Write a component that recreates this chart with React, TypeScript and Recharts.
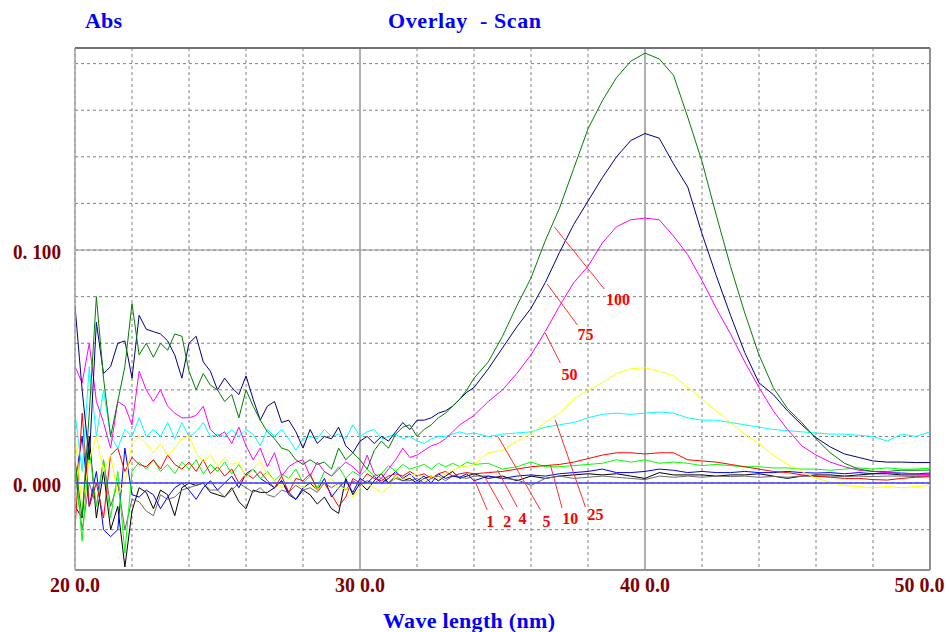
import React from 'react';
import { LineChart, Line, XAxis, YAxis, CartesianGrid, ReferenceLine, ReferenceDot } from 'recharts';

// Wavelengths (nm)
const wavelengths = [
  200, 202.5, 205, 207.5, 210, 212.5, 215, 217.5,
  220, 222.5, 225, 227.5, 230, 232.5, 235, 237.5,
  240, 242.5, 245, 247.5, 250, 252.5, 255, 257.5,
  260, 262.5, 265, 267.5, 270, 272.5, 275, 277.5,
  280, 282.5, 285, 287.5, 290, 292.5, 295, 297.5,
  300, 302.5, 305, 307.5, 310, 312.5, 315, 317.5,
  320, 322.5, 325, 327.5, 330, 332.5, 335, 337.5,
  340,
  345, 350, 355, 360, 365, 370, 375, 380,
  385, 390, 395, 400, 405, 410, 415, 420,
  425, 430, 435, 440, 445, 450, 455, 460,
  465, 470, 475, 480, 485, 490, 495, 500,
];

const s100 = [
  0.01, -0.015, 0.03, 0.08, 0.045, 0.02, 0.035, 0.05,
  0.077, 0.055, 0.06, 0.054, 0.06, 0.057, 0.064, 0.063,
  0.048, 0.04, 0.047, 0.042, 0.04, 0.035, 0.038, 0.028,
  0.04, 0.033, 0.027, 0.022, 0.019, 0.015, 0.014, 0.01,
  0.008, 0.01, 0.008, 0.009, 0.006, 0.015, 0.01, 0.013,
  0.01, 0.006, 0.014, 0.018, 0.015, 0.021, 0.024, 0.025,
  0.02, 0.023, 0.025, 0.028, 0.03, 0.033, 0.036, 0.04,
  0.045,
  0.052, 0.063, 0.076, 0.088, 0.104, 0.118, 0.135, 0.152,
  0.164, 0.174, 0.181, 0.1845, 0.182, 0.175, 0.157, 0.138,
  0.115, 0.093, 0.073, 0.055, 0.041, 0.032, 0.026, 0.019,
  0.013, 0.0085, 0.006, 0.005, 0.005, 0.0055, 0.0055, 0.0056,
];

const s75 = [
  0.076, 0.04, 0.01, 0.069, 0.047, 0.05, 0.06, 0.061,
  0.045, 0.072, 0.066, 0.065, 0.064, 0.061, 0.055, 0.045,
  0.06, 0.063, 0.052, 0.048, 0.04, 0.045, 0.041, 0.038,
  0.046, 0.036, 0.027, 0.033, 0.035, 0.026, 0.027, 0.022,
  0.015, 0.023, 0.017, 0.02, 0.019, 0.024, 0.016, 0.013,
  0.018, 0.02, 0.017, 0.02, 0.018, 0.022, 0.026, 0.023,
  0.027, 0.027, 0.028, 0.03, 0.031, 0.033, 0.036, 0.039,
  0.041,
  0.049, 0.058, 0.067, 0.075, 0.086, 0.099, 0.111, 0.121,
  0.131, 0.14, 0.147, 0.15, 0.148, 0.137, 0.127, 0.107,
  0.089, 0.072, 0.056, 0.043, 0.038, 0.031, 0.025, 0.0195,
  0.0155, 0.0125, 0.011, 0.0095, 0.009, 0.009, 0.0088, 0.0088,
];

const s50 = [
  0.05, 0.043, 0.06, 0.035, 0.026, 0.015, 0.035, 0.033,
  0.025, 0.048, 0.04, 0.035, 0.04, 0.033, 0.03, 0.028,
  0.028, 0.029, 0.033, 0.023, 0.02, 0.022, 0.017, 0.024,
  0.016, 0.01, 0.015, 0.007, 0.013, 0.003, 0.007, 0.009,
  0.01, 0.003, 0.009, 0.005, 0.003, 0.006, 0.009, 0.007,
  0.004, 0.012, 0.004, 0.002, 0.006, 0.01, 0.015, 0.011,
  0.012, 0.014, 0.016, 0.017, 0.019, 0.022, 0.025, 0.027,
  0.029,
  0.035, 0.04, 0.047, 0.055, 0.065, 0.076, 0.086, 0.093,
  0.103, 0.11, 0.113, 0.1137, 0.113, 0.106, 0.098, 0.087,
  0.075, 0.064, 0.052, 0.041, 0.031, 0.023, 0.016, 0.012,
  0.009, 0.007, 0.0055, 0.005, 0.0045, 0.004, 0.004, 0.0035,
];

const s25 = [
  0.02, -0.01, 0.01, 0.02, 0.005, 0.012, -0.005, 0.0,
  0.017, 0.02, 0.017, 0.013, 0.017, 0.012, 0.015, 0.019,
  0.02, 0.013, 0.009, 0.012, 0.007, 0.011, 0.008, 0.009,
  0.002, 0.006, 0.009, 0.004, 0.001, -0.002, 0.002, 0.0,
  -0.002, 0.001, -0.003, 0.0, 0.002, -0.003, -0.002, -0.006,
  -0.002, 0.0, -0.002, -0.004, -0.002, 0.003, 0.0015, 0.003,
  0.004, 0.001, 0.003, 0.002, 0.004, 0.0055, 0.007, 0.007,
  0.008,
  0.013, 0.014, 0.018, 0.021, 0.026, 0.03, 0.036, 0.04,
  0.043, 0.047, 0.049, 0.0495, 0.048, 0.046, 0.041, 0.036,
  0.031, 0.026, 0.021, 0.017, 0.012, 0.008, 0.005, 0.002,
  0.0005, -0.001, -0.0015, -0.002, -0.0015, -0.002, -0.0015, -0.001,
];

const s10 = [
  0.03, 0.005, 0.05, 0.02, 0.04, 0.02, 0.015, 0.023,
  0.02, 0.028, 0.02, 0.023, 0.02, 0.026, 0.019, 0.026,
  0.02, 0.022, 0.026, 0.02, 0.021, 0.02, 0.023, 0.02,
  0.023, 0.021, 0.016, 0.023, 0.02, 0.023, 0.019, 0.014,
  0.019, 0.02, 0.019, 0.023, 0.02, 0.021, 0.019, 0.025,
  0.02, 0.022, 0.023, 0.019, 0.02, 0.021, 0.019, 0.02,
  0.018, 0.017, 0.019, 0.02, 0.02, 0.021, 0.022, 0.021,
  0.0215,
  0.02, 0.021, 0.0215, 0.022, 0.024, 0.025, 0.026, 0.028,
  0.0295, 0.03, 0.0295, 0.03, 0.0305, 0.03, 0.028, 0.027,
  0.027, 0.026, 0.025, 0.024, 0.023, 0.0225, 0.022, 0.0215,
  0.021, 0.021, 0.0205, 0.02, 0.018, 0.021, 0.02, 0.022,
];

const s5 = [
  -0.02, 0.03, -0.01, 0.0, -0.015, 0.012, 0.015, 0.005,
  0.011, 0.008, 0.007, 0.01, 0.006, 0.012, 0.008, 0.006,
  0.009, 0.005, 0.01, 0.004, 0.007, 0.003, 0.006, 0.0,
  0.004, 0.002, 0.005, 0.001, -0.002, 0.003, -0.004, 0.002,
  0.001, 0.004, -0.003, 0.0, -0.005, -0.01, -0.006, 0.002,
  0.0, 0.004, 0.002, 0.001, 0.003, 0.004, 0.003, 0.005,
  0.003, 0.004, 0.002, 0.004, 0.005, 0.003, 0.004, 0.0045,
  0.004,
  0.0045, 0.005, 0.006, 0.007, 0.0075, 0.008, 0.009, 0.0105,
  0.012, 0.013, 0.013, 0.0125, 0.013, 0.013, 0.01, 0.0095,
  0.009, 0.008, 0.007, 0.006, 0.005, 0.0045, 0.0035, 0.003,
  0.0025, 0.002, 0.002, 0.0015, 0.0013, 0.002, 0.0025, 0.0027,
];

const s4 = [
  0.01, -0.025, 0.015, -0.01, 0.01, -0.015, 0.005, -0.03,
  0.005, 0.009, 0.006, 0.01, 0.005, 0.008, 0.004, 0.009,
  0.006, 0.01, 0.004, 0.008, 0.005, 0.009, 0.004, 0.008,
  0.003, 0.006, 0.002, 0.005, 0.001, 0.004, 0.002, 0.006,
  0.0, 0.003, -0.002, 0.005, 0.003, 0.007, 0.002, 0.005,
  0.003, 0.006, 0.003, 0.004, 0.0075, 0.005, 0.008, 0.006,
  0.007, 0.008, 0.006, 0.0085, 0.007, 0.0085, 0.007, 0.009,
  0.008,
  0.0085, 0.006, 0.007, 0.009, 0.007, 0.007, 0.0075, 0.008,
  0.0085, 0.01, 0.009, 0.01, 0.0085, 0.009, 0.0085, 0.0075,
  0.008, 0.0075, 0.007, 0.007, 0.0065, 0.0065, 0.006, 0.006,
  0.0055, 0.006, 0.0065, 0.006, 0.0065, 0.006, 0.006, 0.0064,
];

const s2 = [
  0.0, 0.02, -0.01, 0.005, -0.02, -0.023, -0.02, 0.015,
  -0.005, -0.006, -0.003, -0.005, -0.011, -0.006, -0.002, 0.0,
  -0.003, -0.007, -0.002, 0.001, -0.003, 0.0, 0.003, -0.002,
  0.004, 0.006, 0.002, 0.0, -0.002, 0.001, -0.005, -0.007,
  -0.002, 0.0, -0.003, 0.002, -0.006, -0.002, 0.001, -0.004,
  0.002, 0.0, 0.003, 0.0, 0.002, 0.005, 0.002, 0.004,
  0.001, 0.003, 0.0, 0.004, 0.002, 0.003, 0.0025, 0.004,
  0.001,
  0.003, 0.002, 0.003, 0.0035, 0.003, 0.004, 0.0045, 0.005,
  0.006, 0.0045, 0.0045, 0.005, 0.006, 0.0055, 0.0045, 0.005,
  0.0045, 0.0045, 0.005, 0.0045, 0.0045, 0.005, 0.0045, 0.0043,
  0.0045, 0.004, 0.0045, 0.004, 0.0045, 0.0043, 0.004, 0.0043,
];

const s1 = [
  -0.01, -0.015, 0.02, -0.015, 0.005, -0.02, -0.01, -0.036,
  -0.012, -0.002, -0.004, -0.011, -0.003, -0.005, -0.014, -0.002,
  0.0, -0.001, 0.0, -0.004, -0.005, -0.006, -0.002, -0.008,
  -0.011, -0.003, -0.004, -0.004, -0.002, 0.001, -0.004, -0.007,
  -0.003, -0.005, -0.009, -0.006, -0.011, -0.013, 0.002, -0.005,
  0.0, -0.003, 0.001, 0.004, 0.0, 0.003, 0.001, 0.002,
  0.0, 0.002, 0.003, 0.001, 0.003, 0.005, 0.002, 0.003,
  0.004,
  0.002, 0.003, 0.001, 0.003, 0.002, 0.003, 0.0035, 0.004,
  0.0035, 0.004, 0.003, 0.002, 0.0045, 0.0035, 0.0035, 0.0035,
  0.003, 0.0035, 0.0035, 0.004, 0.003, 0.002, 0.003, 0.0035,
  0.0035, 0.003, 0.0035, 0.004, 0.004, 0.0035, 0.0035, 0.0035,
];

const sGray = [
  0.005, -0.02, 0.0, -0.01, 0.01, -0.01, 0.0, -0.02,
  -0.007, -0.008, -0.012, -0.014, -0.005, -0.007, -0.006, -0.003,
  -0.002, -0.001, 0.0, -0.003, -0.003, -0.006, -0.003, 0.0,
  -0.002, -0.004, -0.002, -0.005, -0.006, -0.003, -0.004, -0.001,
  -0.003, -0.002, -0.004, 0.0, -0.002, 0.0, -0.003, 0.001,
  -0.001, 0.001, 0.0, 0.002, 0.0, 0.002, 0.001, 0.001,
  0.002, 0.0, 0.002, 0.003, 0.001, 0.003, 0.0025, 0.002,
  0.003,
  0.003, 0.002, 0.0015, -0.001, 0.002, 0.003, 0.002, 0.0025,
  0.003, 0.0025, 0.002, 0.0015, 0.003, 0.0025, 0.003, 0.0025,
  0.003, 0.0028, 0.003, 0.0025, 0.0028, 0.0025, 0.003, 0.0028,
  0.003, 0.0028, 0.003, 0.0028, 0.003, 0.003, 0.0028, 0.003,
];

// Axis ticks / labels
const xGridTicks = [200, 220, 240, 260, 280, 300, 320, 340, 360, 380, 400, 420, 440, 460, 480, 500];
const xLabelValues = [200, 300, 400, 500];
const xLabelTexts = ['20 0.0', '30 0.0', '40 0.0', '50 0.0'];
const yGridTicks = [-0.02, 0, 0.02, 0.04, 0.06, 0.08, 0.1, 0.12, 0.14, 0.16, 0.18];
const yLabelValues = [0, 0.1];
const yLabelTexts = ['0. 000', '0. 100'];
const xMajor = [300, 400];
const yMajor = [0.1];
const X_MIN = 200;
const X_MAX = 500;
const Y_MIN = -0.0373;
const Y_MAX = 0.1867;

// Annotations
const annoTexts = ['1', '2', '4', '5', '10', '25', '50', '75', '100'];
const annoTextWl = [345.7, 351.7, 357.0, 365.4, 373.8, 382.6, 373.5, 379.1, 390.5];
const annoTextAbs = [-0.0163, -0.0163, -0.0154, -0.0167, -0.015, -0.0133, 0.0468, 0.0639, 0.0786];
const leaderStartWl = [344.6, 350.3, 355.2, 363.3, 370.9, 379.1, 370.3, 376.3, 385.7];
const leaderStartAbs = [-0.0115, -0.0115, -0.0103, -0.0115, -0.0107, -0.0103, 0.0515, 0.0678, 0.0833];
const leaderEndWl = [339.9, 344.0, 348.2, 348.5, 366.8, 368.5, 365.0, 365.7, 368.2];
const leaderEndAbs = [0.0021, 0.0022, 0.0056, 0.0198, 0.0078, 0.0271, 0.0644, 0.0854, 0.1099];

const series = [
  { key: 'c1', values: s1, color: '#000000' },
  { key: 'cg', values: sGray, color: '#6a6a6a' },
  { key: 'c2', values: s2, color: '#0000ff' },
  { key: 'c4', values: s4, color: '#00ff00' },
  { key: 'c5', values: s5, color: '#ff0000' },
  { key: 'c10', values: s10, color: '#00ffff' },
  { key: 'c25', values: s25, color: '#ffff00' },
  { key: 'c50', values: s50, color: '#ff00ff' },
  { key: 'c75', values: s75, color: '#000080' },
  { key: 'c100', values: s100, color: '#008000' },
];

const data = wavelengths.map((wl, i) => {
  const row: Record<string, number> = { wl };
  series.forEach((s) => {
    row[s.key] = s.values[i];
  });
  return row;
});

const FONT = "'Liberation Serif', 'Times New Roman', serif";
const CHART_W = 951;

const XTick = (props: any) => {
  const { x, y, payload } = props;
  const idx = xLabelValues.indexOf(payload.value);
  if (idx < 0) return <g />;
  const w = 50;
  const cx = Math.min(x, CHART_W - 4 - 55 / 2);
  return (
    <text x={cx} y={y + 14} textAnchor="middle" fontFamily={FONT} fontWeight="bold" fontSize={22}
      fill="#800000" textLength={w} lengthAdjust="spacingAndGlyphs" style={{ whiteSpace: 'pre' }}>
      {xLabelTexts[idx]}
    </text>
  );
};

const YTick = (props: any) => {
  const { x, y, payload } = props;
  const idx = yLabelValues.findIndex((v) => Math.abs(v - payload.value) < 1e-9);
  if (idx < 0) return <g />;
  return (
    <text x={x - 6} y={y + 9} textAnchor="end" fontFamily={FONT} fontWeight="bold" fontSize={22}
      fill="#800000" textLength={48} lengthAdjust="spacingAndGlyphs" style={{ whiteSpace: 'pre' }}>
      {yLabelTexts[idx]}
    </text>
  );
};

export default function App() {
  return (
    <div style={{ position: 'absolute', left: 0, top: 0, width: 951, height: 632, background: '#ffffff', overflow: 'hidden' }}>
      <LineChart width={951} height={632} data={data} margin={{ top: 48, right: 21, left: 0, bottom: 0 }}>
        <CartesianGrid stroke="#808080" strokeDasharray="3 3" strokeWidth={1} />
        <XAxis dataKey="wl" type="number" domain={[X_MIN, X_MAX]} ticks={xGridTicks} interval={0}
          tick={<XTick />} tickLine={false} axisLine={{ stroke: '#909090', strokeWidth: 2 }} height={62}
          allowDataOverflow />
        <YAxis type="number" domain={[Y_MIN, Y_MAX]} ticks={yGridTicks} interval={0} tick={<YTick />}
          tickLine={false} axisLine={{ stroke: '#a0a0a0', strokeWidth: 1.5 }} width={75} allowDataOverflow />
        {xMajor.map((v) => (
          <ReferenceLine key={'xm' + v} x={v} stroke="#b0b0b0" strokeWidth={2} />
        ))}
        {yMajor.map((v) => (
          <ReferenceLine key={'ym' + v} y={v} stroke="#909090" strokeWidth={1} />
        ))}
        <ReferenceLine y={Y_MAX} stroke="#707070" strokeWidth={2} />
        <ReferenceLine x={X_MAX} stroke="#909090" strokeWidth={2} />
        {series.map((s) => (
          <Line key={s.key} dataKey={s.key} stroke={s.color} strokeWidth={1} dot={false} activeDot={false}
            isAnimationActive={false} type="linear" />
        ))}
        <ReferenceLine y={0} stroke="#4040ff" strokeWidth={1.5} />
        {annoTexts.map((t, i) => (
          <ReferenceLine key={'ld' + i}
            segment={[{ x: leaderStartWl[i], y: leaderStartAbs[i] }, { x: leaderEndWl[i], y: leaderEndAbs[i] }]}
            stroke="#ff3030" strokeWidth={1} />
        ))}
        {annoTexts.map((t, i) => (
          <ReferenceDot key={'lt' + i} x={annoTextWl[i]} y={annoTextAbs[i]} r={0}
            shape={(p: any) => (
              <text x={p.cx} y={p.cy} textAnchor="middle" dominantBaseline="central" fontFamily={FONT}
                fontWeight="bold" fontSize={16} fill="#ff0000">
                {t}
              </text>
            )} />
        ))}
      </LineChart>
      <svg width={951} height={632} style={{ position: 'absolute', left: 0, top: 0, pointerEvents: 'none' }}>
        <text x={85} y={28} fontFamily={FONT} fontWeight="bold" fontSize={22} fill="#0000ff"
          textLength={37} lengthAdjust="spacing">Abs</text>
        <text x={388} y={28} fontFamily={FONT} fontWeight="bold" fontSize={22} fill="#0000ff"
          textLength={153} lengthAdjust="spacing" style={{ whiteSpace: 'pre' }}>Overlay  - Scan</text>
        <text x={383} y={628} fontFamily={FONT} fontWeight="bold" fontSize={22} fill="#0000ff"
          textLength={172} lengthAdjust="spacing" style={{ whiteSpace: 'pre' }}>Wave length (nm)</text>
      </svg>
    </div>
  );
}
